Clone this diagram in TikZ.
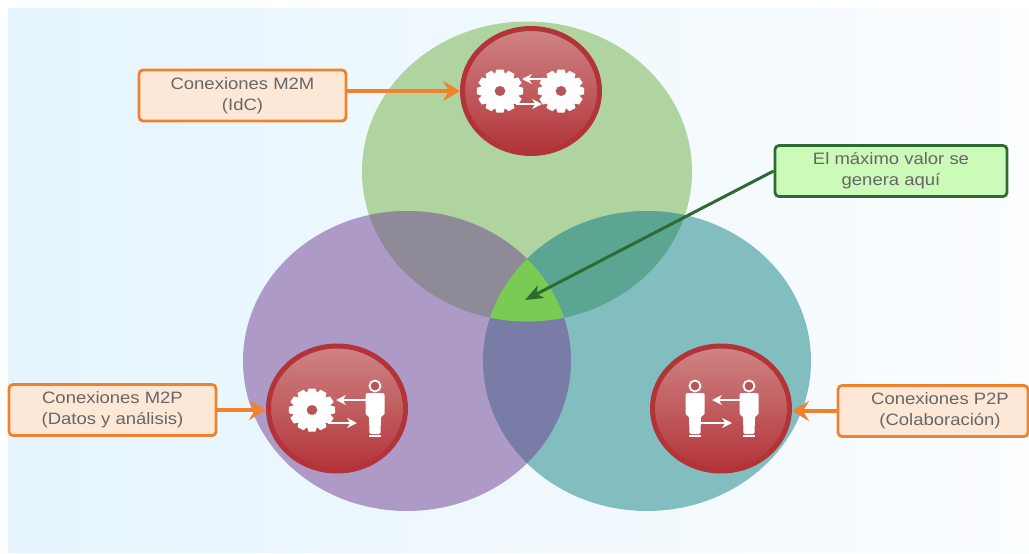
\documentclass[tikz,border=0pt]{standalone}
\usepackage{fontspec}
\setmainfont[FakeStretch=1.12]{Liberation Sans}
\usetikzlibrary{arrows.meta,shapes.geometric}
\definecolor{backleft}{HTML}{E5F4FD}
\definecolor{backright}{HTML}{FBFDFF}
\definecolor{greenzone}{HTML}{B0D4A0}
\definecolor{purplezone}{HTML}{AE9AC6}
\definecolor{tealzone}{HTML}{82BEC0}
\definecolor{greenpurple}{HTML}{8F8A98}
\definecolor{greenteal}{HTML}{5BA592}
\definecolor{purpleteal}{HTML}{7A7CA8}
\definecolor{centerzone}{HTML}{78CC54}
\definecolor{ringred}{HTML}{B23338}
\definecolor{topred}{HTML}{CF8585}
\definecolor{holered}{HTML}{B8555A}
\definecolor{orangeline}{HTML}{F0822D}
\definecolor{orangefill}{HTML}{FDE8D8}
\definecolor{darkgreen}{HTML}{2E6B32}
\definecolor{lightgreen}{HTML}{CCFAB8}
\definecolor{labeltext}{HTML}{666666}
\tikzset{
  labelbox/.style={draw=orangeline, fill=orangefill, line width=2.8pt, rounded corners=4pt,
    minimum height=51pt, inner sep=0pt, align=center, text=labeltext,
    font=\fontsize{16.5}{21}\selectfont},
  valuebox/.style={labelbox, draw=darkgreen, fill=lightgreen},
  iconball/.style={ellipse, draw=ringred, line width=5pt, top color=topred,
    bottom color=ringred, minimum width=137pt, minimum height=125pt, inner sep=0pt},
  orangearrow/.style={-{Stealth[length=17pt,width=20pt,inset=6pt]}, orangeline, line width=3.2pt},
  greenarrow/.style={-{Stealth[length=18pt,width=14pt,inset=5pt]}, darkgreen, line width=3pt},
  iconarrow/.style={-{Stealth[length=10pt,width=10pt]}, white, line width=2pt}
}
\newcommand{\greenzone}{(527,171.5) circle [x radius=165,y radius=150]}
\newcommand{\purplezone}{(407,361) circle [x radius=164,y radius=150]}
\newcommand{\tealzone}{(647,361) circle [x radius=164,y radius=150]}
\newcommand{\gearicon}[2]{%
  \begin{scope}[shift={(#1,#2)},xscale=1.07]
    \foreach \angle in {0,30,...,330}
      \fill[white,rotate=\angle] (-4.6,-17) -- (-3.2,-21.5) -- (3.2,-21.5) -- (4.6,-17) -- cycle;
    \fill[white] (0,0) circle (18);
    \fill[holered] (0,0) circle (5);
  \end{scope}}
\newcommand{\personicon}[2]{%
  \begin{scope}[shift={(#1,#2)}]
    \draw[white,line width=1.8pt,fill=holered] (0,-22) circle (5.5);
    \fill[white,rounded corners=1.5pt] (-9.5,-15) -- (9.5,-15) -- (9.5,7) -- (6,8) -- (5.5,26) -- (-5.5,26) -- (-6,8) -- (-9.5,7) -- cycle;
    \fill[white] (-6,27) rectangle (6,29);
  \end{scope}}
\begin{document}
\begin{tikzpicture}[x=1pt,y=-1pt]
    \useasboundingbox (0,0) rectangle (1029,554);

    % Background
    \shade[left color=backleft, right color=backright] (8,8) rectangle (1029,552);

    % Three zones
    \fill[greenzone] \greenzone;
    \fill[purplezone] \purplezone;
    \fill[tealzone] \tealzone;

    % Overlaps of two zones
    \begin{scope}
      \clip \greenzone;
      \fill[greenpurple] \purplezone;
      \fill[greenteal] \tealzone;
    \end{scope}
    \begin{scope}
      \clip \purplezone;
      \fill[purpleteal] \tealzone;
    \end{scope}

    % Overlap of all three
    \begin{scope}
      \clip \greenzone;
      \clip \purplezone;
      \fill[centerzone] \tealzone;
    \end{scope}

    % Red icons
    \node[iconball] (m2micon) at (531,91) {};
    \node[iconball] (m2picon) at (337,408.5) {};
    \node[iconball] (p2picon) at (721,408.5) {};

    % Gears and people
    \gearicon{500}{91}
    \gearicon{561}{91}
    \gearicon{312}{410}
    \personicon{375}{408}
    \personicon{695}{408}
    \personicon{749}{408}

    % Arrows inside the icons
    \draw[iconarrow] (547,79) -- (522,79);
    \draw[iconarrow] (516,104) -- (542,104);
    \draw[iconarrow] (367,400) -- (336,400);
    \draw[iconarrow] (328,423) -- (357,423);
    \draw[iconarrow] (741,400) -- (712,400);
    \draw[iconarrow] (700,423) -- (732,423);

    % Labels
    \node[labelbox, minimum width=207pt] (m2mbox) at (242.5,95.5) {Conexiones M2M\\(IdC)};
    \node[labelbox, minimum width=207pt] (m2pbox) at (112.5,410) {Conexiones M2P\\(Datos y análisis)};
    \node[labelbox, minimum width=190pt] (p2pbox) at (933,411) {\hspace*{14pt}Conexiones P2P\\\hspace*{14pt}(Colaboración)};
    \node[valuebox, minimum width=232pt] (valuebox) at (891,171) {El máximo valor se\\genera aquí};
    \coordinate (valuepoint) at (525,300);

    % Connectors
    \draw[orangearrow] (m2mbox.east |- m2micon.west) -- (m2micon.west);
    \draw[orangearrow] (m2pbox.east) -- (m2pbox.east -| m2picon.west);
    \draw[orangearrow] (p2pbox.west) -- (p2pbox.west -| p2picon.east);
    \draw[greenarrow] (valuebox.west) -- (valuepoint);
\end{tikzpicture}
\end{document}
